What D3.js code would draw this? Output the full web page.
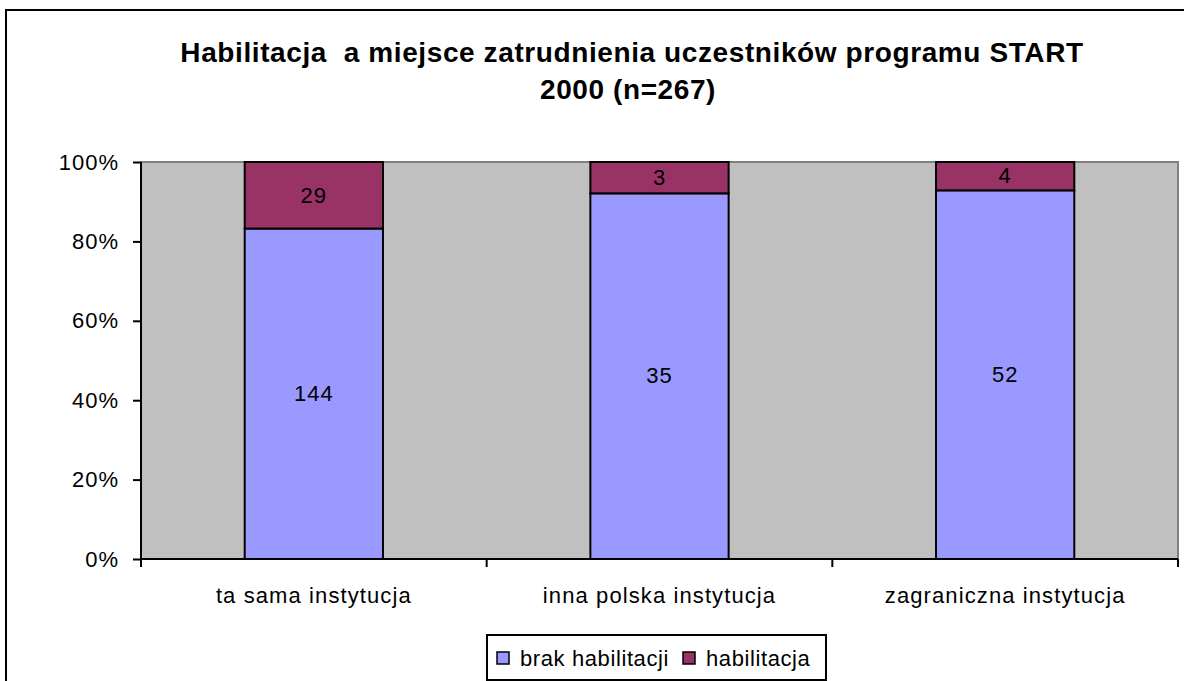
<!DOCTYPE html>
<html lang="pl">
<head>
<meta charset="utf-8">
<script src="https://d3js.org/d3.v7.min.js"></script>
<style>
  body { margin: 0; background: #fff; }
  text { font-family: "Liberation Sans", Arial, sans-serif; fill: #000; }
</style>
</head>
<body>
<div id="chart"></div>
<script>
// data
const categories = ["ta sama instytucja", "inna polska instytucja", "zagraniczna instytucja"];
const seriesNames = ["brak habilitacji", "habilitacja"];
const brak = [144, 35, 52];
const habil = [29, 3, 4];
const yTicks = [0, 0.2, 0.4, 0.6, 0.8, 1];
const colors = ["#9999FF", "#993366"];

const width = 1184, height = 681;
const m = { left: 141, right: 1178, top: 162, bottom: 559 };
const font = "'Liberation Sans', Arial, sans-serif";

const svg = d3.select("#chart").append("svg")
  .attr("width", width).attr("height", height);

// outer frame
svg.append("rect")
  .attr("x", 6).attr("y", 10)
  .attr("width", width).attr("height", height)
  .attr("fill", "none").attr("stroke", "#000").attr("stroke-width", 2);

// title
const title = svg.append("text")
  .attr("text-anchor", "middle")
  .style("font-size", "28px").style("font-weight", "bold")
  .style("letter-spacing", "0.6px").style("white-space", "pre");
title.append("tspan").attr("x", 632).attr("y", 62)
  .text("Habilitacja  a miejsce zatrudnienia uczestników programu START");
title.append("tspan").attr("x", 628).attr("y", 99).text("2000 (n=267)");

const x = d3.scaleBand().domain(categories).range([m.left, m.right]).paddingInner(0).paddingOuter(0);
const y = d3.scaleLinear().domain([0, 1]).range([m.bottom, m.top]);

// plot area
svg.append("rect")
  .attr("x", m.left).attr("y", m.top)
  .attr("width", m.right - m.left).attr("height", m.bottom - m.top)
  .attr("fill", "#C0C0C0").attr("stroke", "#808080").attr("stroke-width", 2);

// stacked data
const rows = categories.map((c, i) => ({ cat: c, brak: brak[i], habilitacja: habil[i] }));
const stack = d3.stack().keys(["brak", "habilitacja"]).offset(d3.stackOffsetExpand);
const layers = stack(rows);

const barW = x.bandwidth() * 0.4;

layers.forEach((layer, li) => {
  const g = svg.append("g");
  g.selectAll("rect").data(layer).join("rect")
    .attr("x", d => x(d.data.cat) + (x.bandwidth() - barW) / 2)
    .attr("y", d => y(d[1]))
    .attr("width", barW)
    .attr("height", d => y(d[0]) - y(d[1]))
    .attr("fill", colors[li])
    .attr("stroke", "#000").attr("stroke-width", 2);
  g.selectAll("text").data(layer).join("text")
    .attr("x", d => x(d.data.cat) + x.bandwidth() / 2)
    .attr("y", d => (y(d[0]) + y(d[1])) / 2)
    .attr("dy", "0.33em")
    .attr("text-anchor", "middle")
    .style("font-size", "22px").style("letter-spacing", "1px")
    .text(d => d.data[layer.key]);
});

// y axis
const yAxis = svg.append("g")
  .attr("transform", `translate(${m.left},0)`)
  .call(d3.axisLeft(y).tickValues(yTicks).tickFormat(d3.format(".0%")).tickSize(8).tickPadding(14));
yAxis.select(".domain").attr("stroke", "#000").attr("stroke-width", 2).attr("d", `M0,${m.top}V${m.bottom}`);
yAxis.selectAll(".tick line").attr("stroke", "#000").attr("stroke-width", 2);
yAxis.selectAll(".tick text").style("font-size", "22px").style("font-family", font).style("letter-spacing", "1px");

// x axis
const xAxis = svg.append("g")
  .attr("transform", `translate(0,${m.bottom})`)
  .call(d3.axisBottom(x).tickSize(0));
xAxis.select(".domain").attr("stroke", "#000").attr("stroke-width", 2).attr("d", `M${m.left},0H${m.right}`);
xAxis.selectAll(".tick text")
  .attr("y", 44).attr("dy", 0)
  .style("font-size", "22px").style("font-family", font).style("letter-spacing", "1.1px");
// category boundary ticks
const bounds = categories.map(c => x(c)).concat([x(categories[categories.length - 1]) + x.bandwidth()]);
xAxis.selectAll(".bnd").data(bounds).join("line")
  .attr("x1", d => d).attr("x2", d => d)
  .attr("y1", 0).attr("y2", 8)
  .attr("stroke", "#000").attr("stroke-width", 2);

// legend
const legend = svg.append("g");
legend.append("rect")
  .attr("x", 487).attr("y", 635).attr("width", 339).attr("height", 45)
  .attr("fill", "#fff").attr("stroke", "#000").attr("stroke-width", 2);
const itemX = [497, 683];
seriesNames.forEach((s, i) => {
  legend.append("rect")
    .attr("x", itemX[i]).attr("y", 652).attr("width", 12).attr("height", 12)
    .attr("fill", colors[i]).attr("stroke", "#000").attr("stroke-width", 1.5);
  legend.append("text")
    .attr("x", itemX[i] + 23).attr("y", 666)
    .style("font-size", "22px").style("letter-spacing", "0.6px")
    .text(s);
});
</script>
</body>
</html>
